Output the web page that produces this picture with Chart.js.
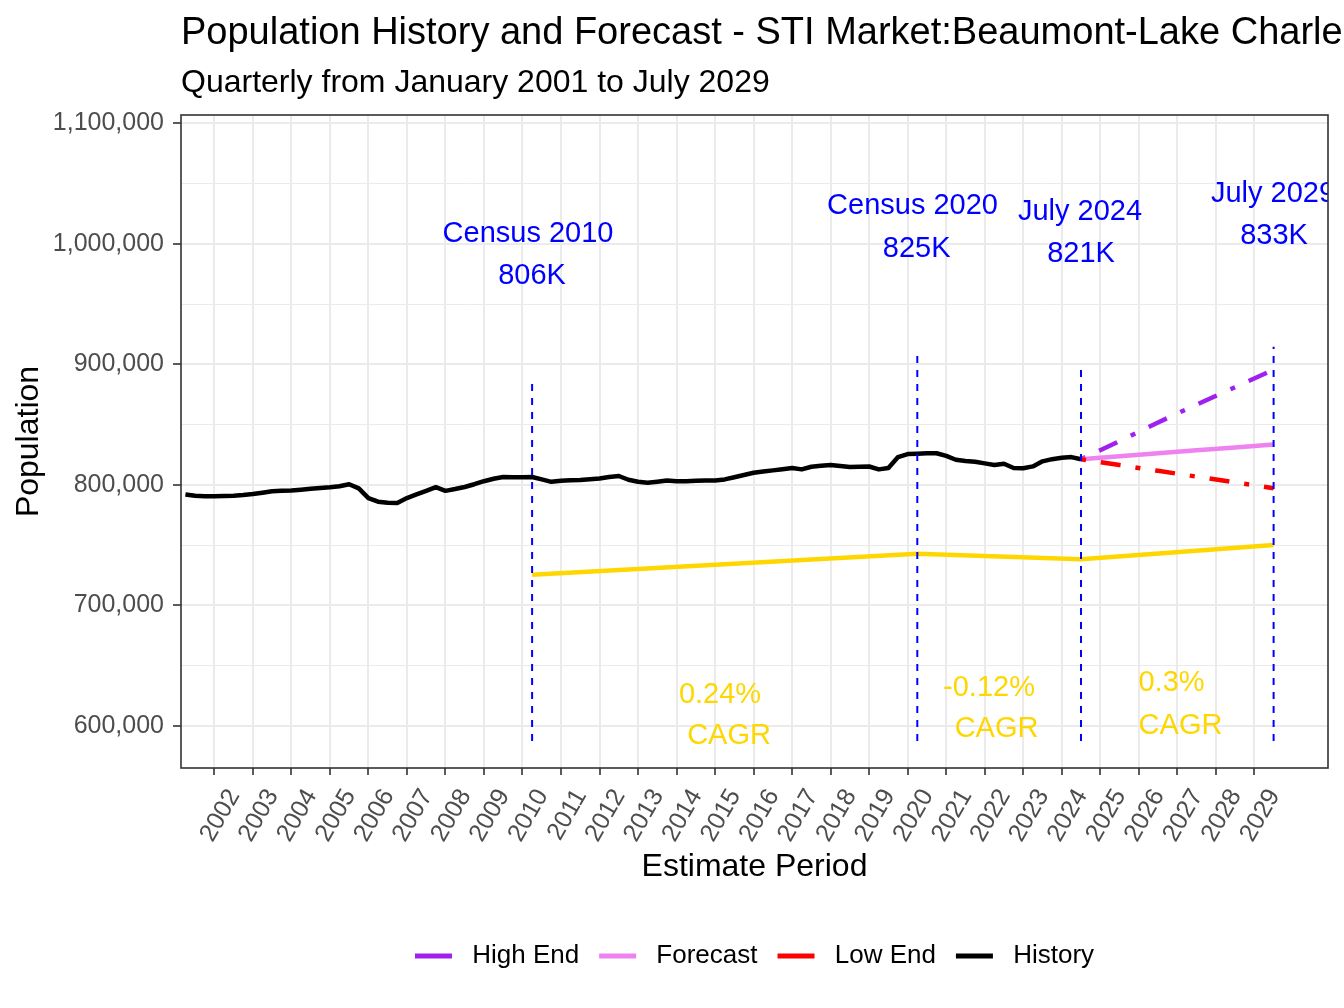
<!DOCTYPE html>
<html>
<head>
<meta charset="utf-8">
<title>Population History and Forecast</title>
<script src="https://cdn.jsdelivr.net/npm/chart.js@4.4.1/dist/chart.umd.min.js"></script>
<style>
  html, body { margin: 0; padding: 0; background: #fff; }
  #wrap { width: 1344px; height: 1008px; }
</style>
</head>
<body>
<div id="wrap"><canvas id="chart" width="1344" height="1008"></canvas></div>
<script>
// ── Data ──────────────────────────────────────────────────────
const titleText    = 'Population History and Forecast - STI Market:Beaumont-Lake Charles';
const subtitleText = 'Quarterly from January 2001 to July 2029';

// quarterly history, first point April 2001, last July 2024
const historyStart  = 2001.25;
const historyValues = [
                  792000, 791000, 790500,
  790500, 790700, 791000, 791500,   // 2002
  792300, 793500, 794700, 795000,   // 2003
  795300, 796000, 796700, 797400,   // 2004
  798000, 798800, 800500, 797000,   // 2005
  789000, 786000, 785200, 785000,   // 2006
  789000, 792000, 795000, 798000,   // 2007
  795000, 796500, 798200, 800500,   // 2008
  803000, 805000, 806500, 806200,   // 2009
  806300, 806500, 804500, 802500,   // 2010
  803300, 803700, 804000, 804600,   // 2011
  805300, 806500, 807300, 804200,   // 2012
  802500, 801700, 802600, 803600,   // 2013
  803000, 803000, 803400, 803600,   // 2014
  803600, 804500, 806300, 808200,   // 2015
  810000, 811000, 812000, 813000,   // 2016
  814000, 812800, 815000, 815800,   // 2017
  816500, 815700, 814800, 815000,   // 2018
  815200, 812800, 814000, 823000,   // 2019
  825500, 825800, 826200, 826200,   // 2020
  824000, 820800, 819800, 819200,   // 2021
  817800, 816500, 817500, 814000,   // 2022
  813700, 815300, 819500, 821300,   // 2023
  822500, 823000, 821200            // 2024
];

// forecast band, July of each year 2024..2029
const forecastYears  = [2024.5, 2025.5, 2026.5, 2027.5, 2028.5, 2029.5];
const forecastValues = [821200, 823700, 826200, 828600, 831000, 833400];
const highEndValues  = [821200, 836200, 851800, 866600, 881000, 895500];
const lowEndValues   = [821200, 816400, 811600, 806800, 802000, 797200];

// CAGR guide line (gold)
const cagrYears  = [2010.25, 2020.25, 2024.5, 2029.5];
const cagrValues = [725400, 742800, 738200, 750000];

// dashed blue marker lines
const markerYears  = [2010.25, 2020.25, 2024.5, 2029.5];
const markerTops   = [887500, 909000, 900600, 914600];
const markerBottom = 587500;

const markerNames  = ['Census 2010', 'Census 2020', 'July 2024', 'July 2029'];
const markerValues = ['806K', '825K', '821K', '833K'];
const cagrLabels   = ['0.24%', '-0.12%', '0.3%'];

const tickYears = [2002, 2003, 2004, 2005, 2006, 2007, 2008, 2009, 2010, 2011,
                   2012, 2013, 2014, 2015, 2016, 2017, 2018, 2019, 2020, 2021,
                   2022, 2023, 2024, 2025, 2026, 2027, 2028, 2029];
const yTicks = [600000, 650000, 700000, 750000, 800000, 850000,
                900000, 950000, 1000000, 1050000, 1100000];

const legendNames  = ['High End', 'Forecast', 'Low End', 'History'];
const legendColors = ['#A020F0', '#EE82EE', '#FF0000', '#000000'];

// ── Text annotations (data coords: x = year, y = baseline value) ──
const BLUE = '#0000FF';
const GOLD = '#FFD700';
const notes = [
  { text: markerNames[0],  x: 2010.144, y: 1001400, color: BLUE },
  { text: markerValues[0], x: 2010.248, y: 966500,  color: BLUE },
  { text: markerNames[1],  x: 2020.126, y: 1024700, color: BLUE },
  { text: markerValues[1], x: 2020.235, y: 989400,  color: BLUE },
  { text: markerNames[2],  x: 2024.474, y: 1019700, color: BLUE },
  { text: markerValues[2], x: 2024.500, y: 984800,  color: BLUE },
  { text: markerNames[3],  x: 2029.484, y: 1034700, color: BLUE },
  { text: markerValues[3], x: 2029.510, y: 999800,  color: BLUE },
  { text: cagrLabels[0],   x: 2015.128, y: 619000,  color: GOLD },
  { text: 'CAGR',          x: 2015.362, y: 584900,  color: GOLD },
  { text: cagrLabels[1],   x: 2022.112, y: 624900,  color: GOLD },
  { text: 'CAGR',          x: 2022.307, y: 590800,  color: GOLD },
  { text: cagrLabels[2],   x: 2026.850, y: 629000,  color: GOLD },
  { text: 'CAGR',          x: 2027.083, y: 593300,  color: GOLD }
];

// ── Build series ──────────────────────────────────────────────
const historyPoints  = historyValues.map((v, i) => ({ x: historyStart + i * 0.25, y: v }));
const pairs          = (xs, ys) => xs.map((x, i) => ({ x, y: ys[i] }));
const markerPoints   = [];
markerYears.forEach((yr, i) => {
  markerPoints.push({ x: yr, y: markerBottom }, { x: yr, y: markerTops[i] }, { x: yr, y: null });
});

const FONT = '"Liberation Sans", Arial, Helvetica, sans-serif';
Chart.defaults.font.family = FONT;

// ── Titles, annotations and panel border ─────────────────────
const decor = {
  id: 'decor',
  afterDraw(chart) {
    const { ctx, chartArea: a, scales: { x, y } } = chart;
    ctx.save();
    ctx.fillStyle    = '#000';
    ctx.textAlign    = 'left';
    ctx.textBaseline = 'alphabetic';
    ctx.font = '38px ' + FONT;
    ctx.fillText(titleText, a.left, 44);
    ctx.font = '32px ' + FONT;
    ctx.fillText(subtitleText, a.left, 92);

    ctx.save();
    ctx.beginPath();
    ctx.rect(a.left, a.top, a.right - a.left, a.bottom - a.top);
    ctx.clip();
    ctx.textAlign = 'center';
    ctx.font = '29px ' + FONT;
    notes.forEach(n => {
      ctx.fillStyle = n.color;
      ctx.fillText(n.text, x.getPixelForValue(n.x), y.getPixelForValue(n.y));
    });
    ctx.restore();

    ctx.strokeStyle = '#333333';
    ctx.lineWidth   = 1.6;
    ctx.strokeRect(a.left, a.top, a.right - a.left, a.bottom - a.top);
    ctx.restore();
  }
};

// ── Chart ─────────────────────────────────────────────────────
new Chart(document.getElementById('chart'), {
  type: 'line',
  data: {
    datasets: [
      { label: 'Markers',  data: markerPoints, borderColor: BLUE, borderWidth: 2, borderDash: [7, 7] },
      { label: 'Low End',  data: pairs(forecastYears, lowEndValues),   borderColor: '#FF0000', borderWidth: 4.5, borderDash: [5, 15, 20, 15] },
      { label: 'Forecast', data: pairs(forecastYears, forecastValues), borderColor: '#EE82EE', borderWidth: 4.5 },
      { label: 'High End', data: pairs(forecastYears, highEndValues),  borderColor: '#A020F0', borderWidth: 4.5, borderDash: [5, 15, 20, 15] },
      { label: 'History',  data: historyPoints, borderColor: '#000000', borderWidth: 4.5 },
      { label: 'CAGR',     data: pairs(cagrYears, cagrValues), borderColor: GOLD, borderWidth: 4.5 }
    ]
  },
  options: {
    responsive: false,
    animation: false,
    devicePixelRatio: 1,
    elements: {
      point: { radius: 0, hoverRadius: 0 },
      line:  { tension: 0, borderCapStyle: 'butt', borderJoinStyle: 'round', fill: false }
    },
    layout: { padding: { top: 115, right: 16, bottom: 29, left: 0 } },
    plugins: {
      tooltip: { enabled: false },
      legend: {
        position: 'bottom',
        fullSize: false,
        labels: {
          color: '#000',
          font: { size: 26 },
          boxWidth: 37,
          boxHeight: 5,
          padding: 20,
          // leading space widens the gap between key and text like the original
          generateLabels: () => legendNames.map((name, i) => ({
            text: ' ' + name,
            fillStyle: legendColors[i],
            strokeStyle: legendColors[i],
            lineWidth: 0,
            lineDash: [],
            hidden: false,
            datasetIndex: i
          }))
        }
      }
    },
    scales: {
      x: {
        type: 'linear',
        min: 2001.135,
        max: 2030.912,
        afterBuildTicks: s => { s.ticks = tickYears.map(v => ({ value: v })); },
        afterFit: s => { s.height = 155; },
        ticks: {
          autoSkip: false,
          minRotation: 60,
          maxRotation: 60,
          padding: 9,
          labelOffset: 20,
          color: '#4D4D4D',
          font: { size: 25 },
          callback: v => String(v)
        },
        grid: {
          color: '#EBEBEB',
          lineWidth: 2,
          tickLength: 7,
          tickColor: '#333333',
          tickWidth: 1.6
        },
        border: { display: false },
        title: {
          display: true,
          text: 'Estimate Period',
          color: '#000',
          font: { size: 32 },
          padding: { top: 0, bottom: 37 }
        }
      },
      y: {
        type: 'linear',
        min: 565000,
        max: 1106900,
        afterBuildTicks: s => { s.ticks = yTicks.map(v => ({ value: v })); },
        afterFit: s => { s.width = 181; },
        ticks: {
          padding: 9,
          color: '#4D4D4D',
          font: { size: 25 },
          callback: v => (v % 100000 === 0 ? v.toLocaleString('en-US') : '')
        },
        grid: {
          color: '#EBEBEB',
          lineWidth: c => (c.tick && c.tick.value % 100000 === 0 ? 2 : 1),
          tickLength: 8,
          tickColor: c => (c.tick && c.tick.value % 100000 === 0 ? '#333333' : 'rgba(0,0,0,0)'),
          tickWidth: 1.6
        },
        border: { display: false },
        title: {
          display: true,
          text: 'Population',
          color: '#000',
          font: { size: 32 },
          padding: { top: 10, bottom: 0 }
        }
      }
    }
  },
  plugins: [decor]
});
</script>
</body>
</html>
